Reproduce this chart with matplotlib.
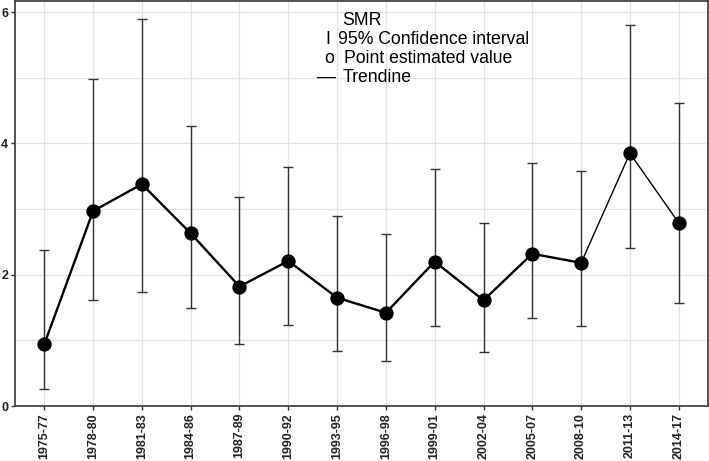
"""SMR by period with 95% confidence intervals."""

import matplotlib

matplotlib.use("Agg")
import matplotlib.pyplot as plt
import numpy as np
from matplotlib.ticker import MultipleLocator

plt.rcParams["font.family"] = ["Liberation Sans", "DejaVu Sans"]

periods = [
    "1975-77", "1978-80", "1981-83", "1984-86", "1987-89", "1990-92", "1993-95",
    "1996-98", "1999-01", "2002-04", "2005-07", "2008-10", "2011-13", "2014-17",
]
smr = [0.94, 2.97, 3.38, 2.63, 1.82, 2.21, 1.65, 1.42, 2.20, 1.61, 2.32, 2.18, 3.85, 2.79]
ci_low = [0.26, 1.62, 1.74, 1.50, 0.94, 1.24, 0.84, 0.68, 1.22, 0.83, 1.34, 1.22, 2.41, 1.57]
ci_high = [2.38, 4.98, 5.89, 4.27, 3.19, 3.64, 2.89, 2.62, 3.61, 2.79, 3.70, 3.58, 5.81, 4.61]

W, H = 709, 461


def main() -> None:
    fig = plt.figure(figsize=(W / 100, H / 100), dpi=100)
    # panel box in pixels: left 15, right 708, top 1, bottom 406
    ax = fig.add_axes([15 / W, 1 - 406 / H, (708 - 15) / W, (406 - 1) / H])

    x = np.arange(len(periods))
    y = np.array(smr)
    lo = np.array(ci_low)
    hi = np.array(ci_high)

    ax.set_axisbelow(True)
    ax.yaxis.set_major_locator(MultipleLocator(2))
    ax.yaxis.set_minor_locator(MultipleLocator(1))
    ax.grid(True, which="major", color="#e3e3e3", linewidth=0.9)
    ax.grid(True, which="minor", axis="y", color="#e3e3e3", linewidth=0.9)

    ax.errorbar(
        x, y, yerr=[y - lo, hi - y], fmt="none", ecolor="#333333",
        elinewidth=1.0, capsize=3.6, capthick=1.0, zorder=2,
    )
    # trend line: last two segments drawn thinner
    ax.plot(x[:12], y[:12], color="black", linewidth=1.7, zorder=3)
    ax.plot(x[11:], y[11:], color="black", linewidth=1.0, zorder=3)
    ax.plot(x, y, "o", color="black", markersize=9.3, zorder=4)

    ax.set_xlim(-0.6, len(periods) - 0.4)
    ax.set_ylim(0, 6.17)
    ax.set_xticks(x)
    ax.set_xticklabels(periods, rotation=90)
    ax.set_yticks([0, 2, 4, 6])
    ax.tick_params(axis="both", which="major", length=3, width=1.0, color="#333333",
                   labelsize=9, labelcolor="#222222", pad=2)
    ax.tick_params(axis="y", which="minor", length=0)
    for label in ax.get_xticklabels() + ax.get_yticklabels():
        label.set_fontweight("bold")
    for spine in ax.spines.values():
        spine.set_color("#444444")
        spine.set_linewidth(1.3)

    # legend text, placed by pixel position
    fs = 12.7
    fig.text(341.7 / W, 1 - 20.7 / H, "SMR", fontsize=fs, va="center")
    fig.text(325 / W, 1 - 39 / H, "I", fontsize=fs, va="center")
    fig.text(338 / W, 1 - 39 / H, "95% Confidence interval", fontsize=fs, va="center")
    fig.text(324 / W, 1 - 58.7 / H, "o", fontsize=fs, va="center")
    fig.text(344 / W, 1 - 58.7 / H, "Point estimated value", fontsize=fs, va="center")
    fig.text(317 / W, 1 - 77 / H, "—", fontsize=fs + 1, va="center")
    fig.text(343 / W, 1 - 77 / H, "Trendine", fontsize=fs, va="center")

    fig.savefig("out.png", dpi=100)
    plt.close(fig)


if __name__ == "__main__":
    main()
